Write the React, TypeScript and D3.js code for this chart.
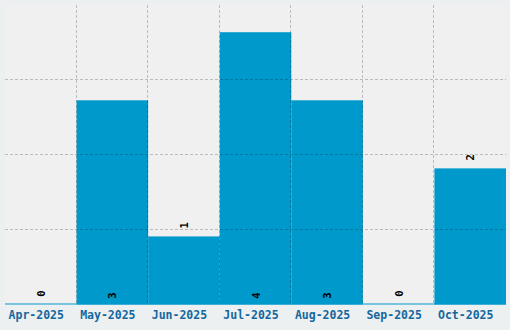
import React from "react";
import * as d3 from "d3";

const categories = ["Apr-2025", "May-2025", "Jun-2025", "Jul-2025", "Aug-2025", "Sep-2025", "Oct-2025"];
const values = [0, 3, 1, 4, 3, 0, 2];
const yMax = 4.4;

const W = 510;
const H = 330;
const M = { left: 5, right: 4, top: 5, bottom: 25.5 };

export default function App() {
  const x = d3
    .scaleBand<string>()
    .domain(categories)
    .range([M.left, W - M.right])
    .padding(0);
  const y = d3.scaleLinear().domain([0, yMax]).range([H - M.bottom, M.top]);
  const gridY = [1, 2, 3].map((i) => (yMax / 4) * i);
  const bw = x.bandwidth();
  const gridColor = "rgba(0,0,0,0.22)";

  return (
    <svg
      width={W}
      height={H}
      style={{ position: "absolute", left: 0, top: 0, display: "block" }}
    >
      <rect x={0} y={0} width={W} height={H} fill="#ecf0f1" />
      <rect
        x={M.left}
        y={M.top}
        width={W - M.left - M.right}
        height={H - M.top - M.bottom}
        fill="#f0f0f0"
      />
      {values.map((v, i) => (
        <rect
          key={categories[i]}
          x={x(categories[i])}
          y={y(v)}
          width={bw}
          height={y(0) - y(v)}
          fill="#0099cc"
        />
      ))}
      <line
        x1={M.left}
        x2={W - M.right}
        y1={y(0) - 0.5}
        y2={y(0) - 0.5}
        stroke="#0099cc"
        strokeWidth={1}
      />
      {gridY.map((g) => (
        <line
          key={g}
          x1={M.left}
          x2={W - M.right}
          y1={Math.round(y(g)) - 0.5}
          y2={Math.round(y(g)) - 0.5}
          stroke={gridColor}
          strokeDasharray="3,2"
        />
      ))}
      {categories.slice(1).map((c) => (
        <line
          key={c}
          x1={Math.round(x(c)!) - 0.5}
          x2={Math.round(x(c)!) - 0.5}
          y1={M.top}
          y2={y(0)}
          stroke={gridColor}
          strokeDasharray="3,2"
        />
      ))}
      {values.map((v, i) => {
        const cx = x(categories[i])! + bw / 2;
        const cy = v >= 3 ? y(0) - 9 : y(v) - 11;
        return (
          <text
            key={"l" + i}
            transform={`translate(${cx},${cy}) rotate(-90)`}
            textAnchor="middle"
            dominantBaseline="central"
            fontFamily="DejaVu Sans Mono"
            fontWeight="bold"
            fontSize={10.5}
            fill="#000"
          >
            {v}
          </text>
        );
      })}
      {categories.map((c) => (
        <text
          key={"t" + c}
          x={x(c)! + bw / 2 - 4.5}
          y={319}
          textAnchor="middle"
          fontFamily="DejaVu Sans Mono"
          fontWeight="bold"
          fontSize={11.5}
          fill="#14679e"
        >
          {c}
        </text>
      ))}
    </svg>
  );
}
